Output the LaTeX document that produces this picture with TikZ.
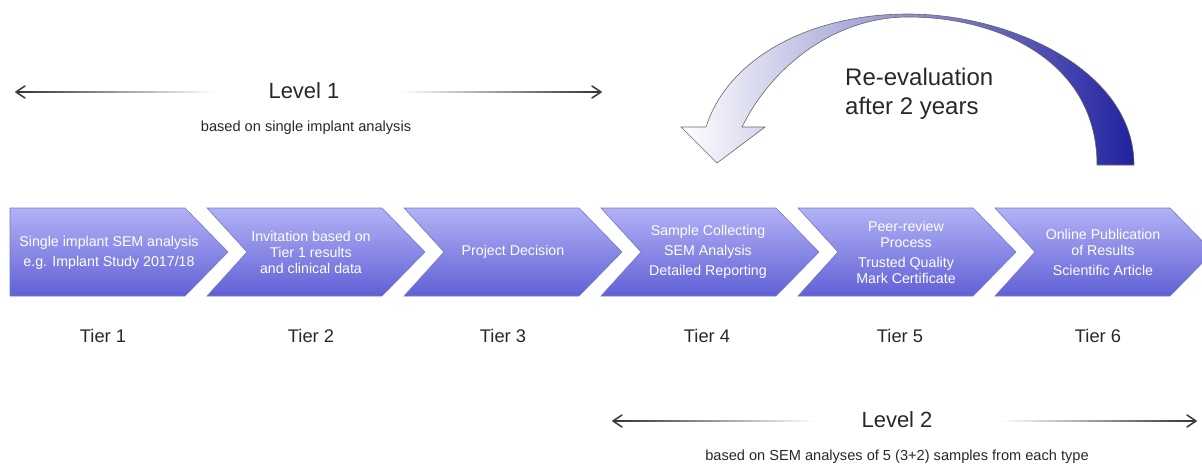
\documentclass[tikz,border=0pt]{standalone}
\usepackage{fontspec}
\setmainfont{Liberation Sans}
\definecolor{chtop}{RGB}{178,178,246}
\definecolor{chbot}{RGB}{96,96,214}
\definecolor{chedge}{RGB}{120,120,200}
\definecolor{arrdark}{RGB}{34,34,160}
\definecolor{txt}{RGB}{40,40,40}
\tikzset{
  chev/.style={top color=chtop, bottom color=chbot, draw=chedge, line width=0.6pt},
  chtext/.style={text=white, align=center, font=\fontsize{14.2}{16}\selectfont, inner sep=0pt},
  tier/.style={text=txt, font=\fontsize{18.3}{20}\selectfont, inner sep=0pt},
  lvl/.style={text=txt, font=\fontsize{22}{26}\selectfont, inner sep=0pt},
  sub/.style={text=txt, font=\fontsize{14.6}{16}\selectfont, inner sep=0pt},
  tipline/.style={line width=1.6pt, draw=black!75, line cap=round, line join=round}
}
\begin{document}
\begin{tikzpicture}[x=1pt,y=-1pt]
\useasboundingbox (0,0) rectangle (1202,466);
\begin{scope}
\clip (0,0) rectangle (1202,466);
% chevrons
\shade[chev] (10,208) -- (185,208) -- (228,252) -- (185,296) -- (10,296) -- cycle;
\foreach \s in {207,404,601,798,995}{
  \shade[chev] (\s,208) -- (\s+175,208) -- (\s+218,252) -- (\s+175,296) -- (\s,296) -- (\s+40,252) -- cycle;
}
\end{scope}
\node[chtext] (c1) at (109,253) {Single implant SEM analysis\\[4pt]e.g. Implant Study 2017/18};
\node[chtext] (c2) at (311,252) {Invitation based on\\Tier 1 results\\and clinical data};
\node[chtext] (c3) at (513,252) {Project Decision};
\node[chtext] (c4) at (708,252) {Sample Collecting\\[4pt]SEM Analysis\\[4pt]Detailed Reporting};
\node[chtext] (c5) at (906,252) {Peer-review\\Process\\[4pt]Trusted Quality\\Mark Certificate};
\node[chtext] (c6) at (1103,252) {Online Publication\\of Results\\[4pt]Scientific Article};
% tiers
\node[tier] (t1) at (103,336) {Tier 1};
\node[tier] (t2) at (311,336) {Tier 2};
\node[tier] (t3) at (503,336) {Tier 3};
\node[tier] (t4) at (707,336) {Tier 4};
\node[tier] (t5) at (900,336) {Tier 5};
\node[tier] (t6) at (1098,336) {Tier 6};
% level 1
\node[lvl] (l1) at (304,91) {Level 1};
\node[sub] (s1) at (306,128) {based on single implant analysis};
\shade[left color=black!80, right color=white] (16,91.2) rectangle (215,92.8);
\shade[left color=white, right color=black!80] (400,91.2) rectangle (600,92.8);
\draw[tipline] (25,86) -- (16,92) -- (25,98);
\draw[tipline] (592,86) -- (601,92) -- (592,98);
% level 2
\node[lvl] (l2) at (897,420) {Level 2};
\node[sub] (s2) at (897,457) {based on SEM analyses of 5 (3+2) samples from each type};
\shade[left color=black!80, right color=white] (613,420.2) rectangle (815,421.8);
\shade[left color=white, right color=black!80] (1000,420.2) rectangle (1196,421.8);
\draw[tipline] (622,415) -- (613,421) -- (622,427);
\draw[tipline] (1187,415) -- (1196,421) -- (1187,427);
% curved arrow
\shade[left color=white, right color=arrdark, draw=black!60, line width=0.6pt]
  (1134,165) .. controls (1134,70) and (1010,14) .. (908,14)
  .. controls (810,14) and (728,58) .. (706,127)
  -- (681,127) -- (717,163) -- (765,127) -- (742,127)
  .. controls (772,66) and (835,17) .. (908,17)
  .. controls (1000,17) and (1097,62) .. (1097,165) -- cycle;
\node[lvl, align=left, anchor=west, font=\fontsize{24}{29}\selectfont] (re) at (845,94) {Re-evaluation\\after 2 years};
\end{tikzpicture}
\end{document}
